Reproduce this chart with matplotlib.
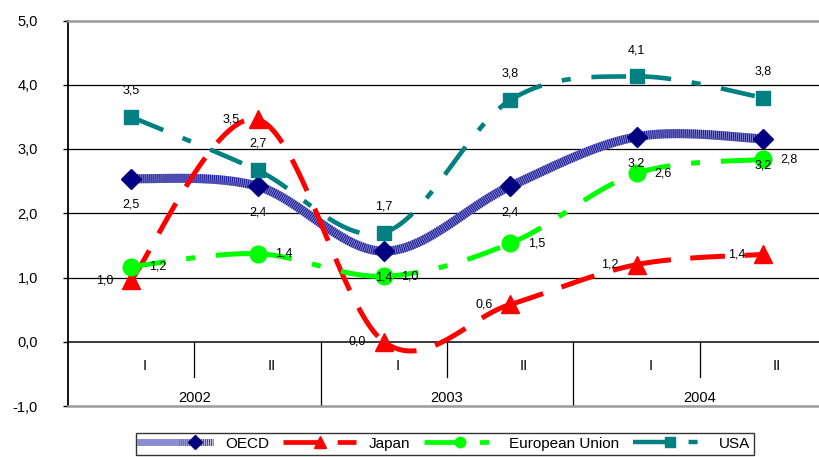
import matplotlib
matplotlib.use("Agg")
import matplotlib.pyplot as plt
import numpy as np
from matplotlib.lines import Line2D
from matplotlib.legend_handler import HandlerTuple

plt.rcParams['font.family'] = ['Liberation Sans', 'DejaVu Sans']
plt.rcParams['lines.scale_dashes'] = False

# data (half-years 2002-2004)
periods = ["I", "II", "I", "II", "I", "II"]
years = ["2002", "2003", "2004"]
oecd = [2.54, 2.42, 1.41, 2.42, 3.19, 3.16]
japan = [0.96, 3.46, 0.0, 0.58, 1.20, 1.36]
eu = [1.17, 1.37, 1.02, 1.53, 2.62, 2.84]
usa = [3.50, 2.67, 1.70, 3.76, 4.13, 3.80]


def smooth_segments(xs, ys, n=50):
    # excel-like smoothed line: one bezier per segment
    P = np.column_stack([xs, ys]).astype(float)
    pad = np.vstack([P[0], P, P[-1]])
    t = np.linspace(0, 1, n)[:, None]
    segs = []
    for i in range(len(P) - 1):
        p0, p1, p2, p3 = pad[i], pad[i + 1], pad[i + 2], pad[i + 3]
        c1 = p1 + (p2 - p0) / 6
        c2 = p2 - (p3 - p1) / 6
        b = (1 - t) ** 3 * p1 + 3 * (1 - t) ** 2 * t * c1 + 3 * (1 - t) * t ** 2 * c2 + t ** 3 * p2
        segs.append(b)
    return segs


def fmt(v):
    return f"{v:.1f}".replace(".", ",")


fig = plt.figure(figsize=(8.19, 4.57), dpi=100)
ax = fig.add_axes([68 / 819, 51 / 457, 758 / 819, 385.5 / 457])
x = np.arange(len(periods))

long_dash = (25, 14)
dash_dot = (25, 15, 6.5, 15)
stripe_light = "#8c8cd4"
stripe_dark = "#1c1c96"

# OECD: thick striped line
for seg in smooth_segments(x, oecd):
    ax.plot(seg[:, 0], seg[:, 1], color=stripe_light, lw=6.5, solid_capstyle="butt", zorder=2)
    ax.plot(seg[:, 0], seg[:, 1], color=stripe_dark, lw=6.5, dashes=(0.8, 0.65),
            dash_capstyle="butt", zorder=2.1)
ax.plot(x, oecd, ls="none", marker="D", ms=10, color="#000080", zorder=2.5)

series = [
    (japan, "#ff0000", long_dash, "^", 13, 3.6, 3),
    (eu, "#00ff00", dash_dot, "o", 12, 3.6, 4),
    (usa, "#008080", dash_dot, "s", 10.5, 3.3, 5),
]
for vals, col, dsh, mk, ms, lw, z in series:
    for seg in smooth_segments(x, vals):
        ax.plot(seg[:, 0], seg[:, 1], color=col, lw=lw, dashes=dsh,
                dash_capstyle="butt", zorder=z)
    ax.plot(x, vals, ls="none", marker=mk, ms=ms, color=col, zorder=z + 0.5)

# data labels
lab = dict(ha="center", va="center", fontsize=9, zorder=10, textcoords="offset points")
for i in range(len(x)):
    ax.annotate(fmt(usa[i]), (x[i], usa[i]), xytext=(0, 19), **lab)
    ax.annotate(fmt(oecd[i]), (x[i], oecd[i]), xytext=(0, -19), **lab)
    ax.annotate(fmt(japan[i]), (x[i], japan[i]), xytext=(-19, 0), **lab)
    ax.annotate(fmt(eu[i]), (x[i], eu[i]), xytext=(19, 0), **lab)

ax.set_xlim(-0.5, 5.5)
ax.set_ylim(-1, 5)
ax.set_yticks(np.arange(-1, 6))
ax.set_yticklabels([fmt(v) for v in np.arange(-1, 6)])
ax.tick_params(axis="y", length=3.6, width=1, pad=18, labelsize=10.5)
ax.set_xticks([])

for v in range(1, 5):
    ax.axhline(v, color="black", lw=0.9, zorder=1)
ax.axhline(0, color="#3a3a3a", lw=1.4, zorder=1)

ax.spines["right"].set_visible(False)
ax.spines["top"].set_color("#9a9a9a")
ax.spines["top"].set_linewidth(1.8)
ax.spines["bottom"].set_color("#9a9a9a")
ax.spines["bottom"].set_linewidth(1.8)
ax.spines["left"].set_linewidth(1.3)

# category axis below zero
for b in [0.5, 2.5, 4.5]:
    ax.plot([b, b], [0, -0.545], color="black", lw=0.9, zorder=1)
for b in [1.5, 3.5]:
    ax.plot([b, b], [0, -1], color="black", lw=0.9, zorder=1)
for i, p in enumerate(periods):
    ax.text(x[i] + 0.11, -0.37, p, ha="center", va="center", fontsize=10.5)
for j, yr in enumerate(years):
    ax.text(2 * j + 0.5, -0.87, yr, ha="center", va="center", fontsize=10.5)

# legend
h_oecd = (Line2D([], [], color=stripe_light, lw=5),
          Line2D([], [], color=stripe_dark, lw=5, dashes=(0.8, 0.65), marker="D", ms=7,
                 markerfacecolor="#000080", markeredgecolor="#000080"))
h_jp = Line2D([], [], color="#ff0000", lw=3.4, dashes=long_dash, marker="^", ms=8)
h_eu = Line2D([], [], color="#00ff00", lw=3.4, dashes=dash_dot, marker="o", ms=7.5)
h_us = Line2D([], [], color="#008080", lw=3.2, dashes=dash_dot, marker="s", ms=7)
leg = fig.legend([h_oecd, h_jp, h_eu, h_us], ["OECD", "Japan", "European Union", "USA"],
                 loc="upper center", bbox_to_anchor=(0.543, 1 - 433 / 457), ncol=4,
                 fontsize=11, frameon=True, fancybox=False, edgecolor="black",
                 handlelength=4.8, handletextpad=0.8, columnspacing=0.9, numpoints=1,
                 borderpad=0.25, borderaxespad=0,
                 handler_map={tuple: HandlerTuple(ndivide=None)})
leg.get_frame().set_linewidth(1.0)

fig.savefig("out.png", dpi=100)
